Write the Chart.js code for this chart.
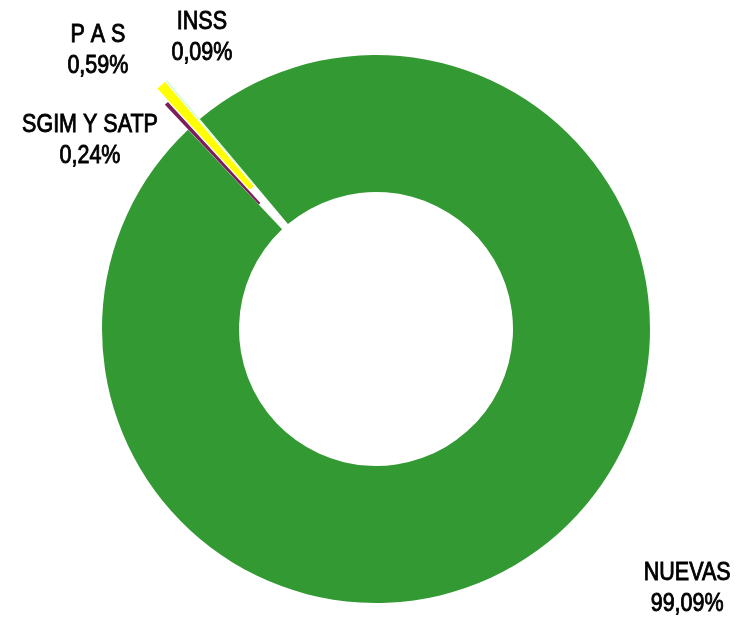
<!DOCTYPE html>
<html>
<head>
<meta charset="utf-8">
<script src="https://cdn.jsdelivr.net/npm/chart.js@4/dist/chart.umd.min.js"></script>
<style>
  html, body { margin: 0; padding: 0; background: #fff; }
  #wrap { width: 746px; height: 619px; }
</style>
</head>
<body>
<div id="wrap"><canvas id="grafico" width="746" height="619"></canvas></div>
<script>
// Categorías y porcentajes
const categorias = ["NUEVAS", "SGIM Y SATP", "P A S", "INSS"];
const valores = [99.09, 0.24, 0.59, 0.09];
const etiquetas = ["99,09%", "0,24%", "0,59%", "0,09%"];
const colores = ["#339933", "#7a1f5c", "#ffff00", "#ccffcc"];

// Posición de cada rótulo (ángulo en grados desde arriba, distancia al centro)
const rotulos = [
  { ang: 129.8, dist: 405 },
  { ang: -56.5, dist: 343 },
  { ang: -44.9, dist: 394 },
  { ang: -30.8, dist: 340 }
];

// Separación (explosión) de cada porción, en píxeles
const explosion = [0, 34, 51, 51];

const fuente = '25px "Liberation Sans", Arial, sans-serif';
const estrechar = 0.86;

// Dibuja las porciones desplazadas hacia afuera
const explosionPlugin = {
  id: 'explosion',
  beforeDatasetDraw(chart, args) {
    const ctx = chart.ctx;
    args.meta.data.forEach((arco, i) => {
      const d = explosion[i];
      const medio = (arco.startAngle + arco.endAngle) / 2;
      ctx.save();
      ctx.translate(Math.cos(medio) * d, Math.sin(medio) * d);
      arco.draw(ctx);
      ctx.restore();
    });
    return false;
  }
};

// Escribe los rótulos fuera del anillo
const rotulosPlugin = {
  id: 'rotulos',
  afterDatasetsDraw(chart) {
    const ctx = chart.ctx;
    const arcos = chart.getDatasetMeta(0).data;
    ctx.save();
    ctx.font = fuente;
    ctx.fillStyle = '#000';
    ctx.strokeStyle = '#000';
    ctx.lineWidth = 0.9;
    ctx.textAlign = 'center';
    ctx.textBaseline = 'middle';
    const escribir = (txt, x, y) => {
      ctx.save();
      ctx.translate(x, y);
      ctx.scale(estrechar, 1);
      ctx.fillText(txt, 0, 0);
      ctx.strokeText(txt, 0, 0);
      ctx.restore();
    };
    arcos.forEach((arco, i) => {
      const r = rotulos[i];
      const a = r.ang * Math.PI / 180;
      const cx = arco.x + r.dist * Math.sin(a);
      const cy = arco.y - r.dist * Math.cos(a);
      escribir(categorias[i], cx, cy - 15);
      escribir(etiquetas[i], cx, cy + 16);
    });
    ctx.restore();
  }
};

const ctx = document.getElementById('grafico').getContext('2d');
new Chart(ctx, {
  type: 'doughnut',
  data: {
    labels: categorias,
    datasets: [{
      data: valores,
      backgroundColor: colores,
      borderWidth: 0
    }]
  },
  options: {
    responsive: false,
    animation: false,
    rotation: -40,
    radius: 274,
    cutout: '50%',
    layout: { padding: { left: 6, right: 0, top: 39, bottom: 0 } },
    plugins: {
      legend: { display: false },
      tooltip: { enabled: false }
    }
  },
  plugins: [explosionPlugin, rotulosPlugin]
});
</script>
</body>
</html>
